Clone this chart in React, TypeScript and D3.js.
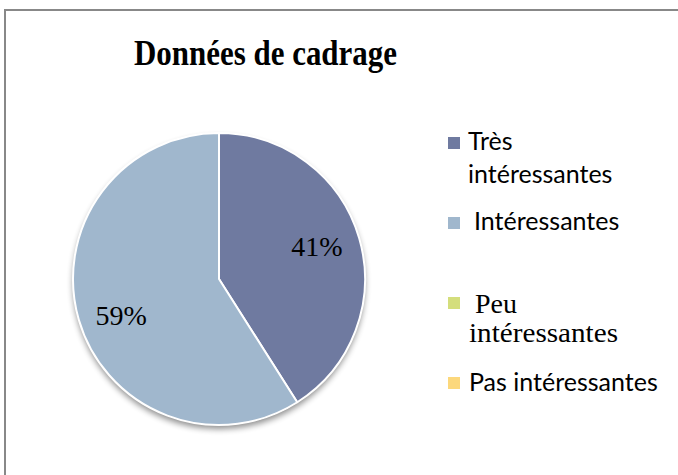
import React, { useEffect } from "react";
import * as d3 from "d3";

const categories = ["Très intéressantes", "Intéressantes", "Peu intéressantes", "Pas intéressantes"];
const values = [41, 59, 0, 0];
const colors = ["#6f7aa0", "#a0b7cd", "#d4de7c", "#fcd87c"];
const legendLines = [["Très", "intéressantes"], ["Intéressantes"], ["Peu", "intéressantes"], ["Pas intéressantes"]];
const title = "Données de cadrage";

export default function App() {
  useEffect(() => {
    document.body.style.margin = "0";
    document.body.style.overflow = "hidden";
    document.documentElement.style.overflow = "hidden";
  }, []);
  const W = 678, H = 475;
  const cx = 219, cy = 279, r = 146;
  const pie = d3.pie<number>().sort(null).value((d) => d);
  const arcs = pie(values);
  const arc = d3.arc<d3.PieArcDatum<number>>().innerRadius(0).outerRadius(r);
  const labelArc = d3.arc<d3.PieArcDatum<number>>().innerRadius(102).outerRadius(102);
  const total = d3.sum(values);
  const fmt = d3.format(".0%");

  const legendY = d3.scalePoint<number>().domain([0, 1, 2, 3]).range([137, 377]);
  const legendSans = "Lato, 'Liberation Sans', sans-serif";
  const serif = "'Liberation Serif', 'DejaVu Serif', serif";

  return (
    <svg width={W} height={H} style={{ position: "fixed", left: 0, top: 0, display: "block", background: "#fff" }}>
      <defs>
        <filter id="shadow" x="-20%" y="-20%" width="140%" height="150%">
          <feGaussianBlur in="SourceAlpha" stdDeviation="3" />
          <feOffset dx="0" dy="4" result="ob" />
          <feComponentTransfer>
            <feFuncA type="linear" slope="0.45" />
          </feComponentTransfer>
          <feMerge>
            <feMergeNode />
            <feMergeNode in="SourceGraphic" />
          </feMerge>
        </filter>
      </defs>
      <line x1={5} y1={10} x2={5} y2={H + 10} stroke="#888" strokeWidth={2} />
      <line x1={4} y1={10} x2={W + 10} y2={10} stroke="#888" strokeWidth={2} />
      <text x={265.5} y={65} textAnchor="middle" fontFamily={serif} fontWeight="bold" fontSize={36}
        textLength={263} lengthAdjust="spacingAndGlyphs" fill="#000">{title}</text>
      <g transform={`translate(${cx},${cy})`}>
        <g filter="url(#shadow)">
          <circle r={r} fill="#fff" />
        </g>
        {arcs.map((a, i) => a.value > 0 ? (
          <path key={i} d={arc(a) || ""} fill={colors[i]} stroke="#fff" strokeWidth={2} strokeLinejoin="round" />
        ) : null)}
        {arcs.map((a, i) => {
          if (a.value <= 0) return null;
          const [x, y] = labelArc.centroid(a);
          return (
            <text key={"l" + i} x={x} y={y} dy={i === 0 ? 5 : 18} textAnchor="middle" fontFamily={serif}
              fontSize={28} fill="#000">{fmt(a.value / total)}</text>
          );
        })}
      </g>
      {categories.map((c, i) => {
        const y = legendY(i) as number;
        const isSerif = i === 2;
        const lines = legendLines[i];
        const xs = [[468, 468], [474], [475, 469], [469]][i];
        const baselines = [[150, 183], [230], [313, 342], [391]][i];
        return (
          <g key={c}>
            <rect x={448} y={y} width={12} height={12} fill={colors[i]} />
            {lines.map((ln, j) => (
              <text key={j} x={xs[j]} y={baselines[j]} fontFamily={isSerif ? serif : legendSans}
                fontSize={isSerif ? 28 : 25} fill="#000"
                textLength={isSerif && j === 1 ? 149 : undefined}
                lengthAdjust="spacingAndGlyphs">{ln}</text>
            ))}
          </g>
        );
      })}
    </svg>
  );
}
